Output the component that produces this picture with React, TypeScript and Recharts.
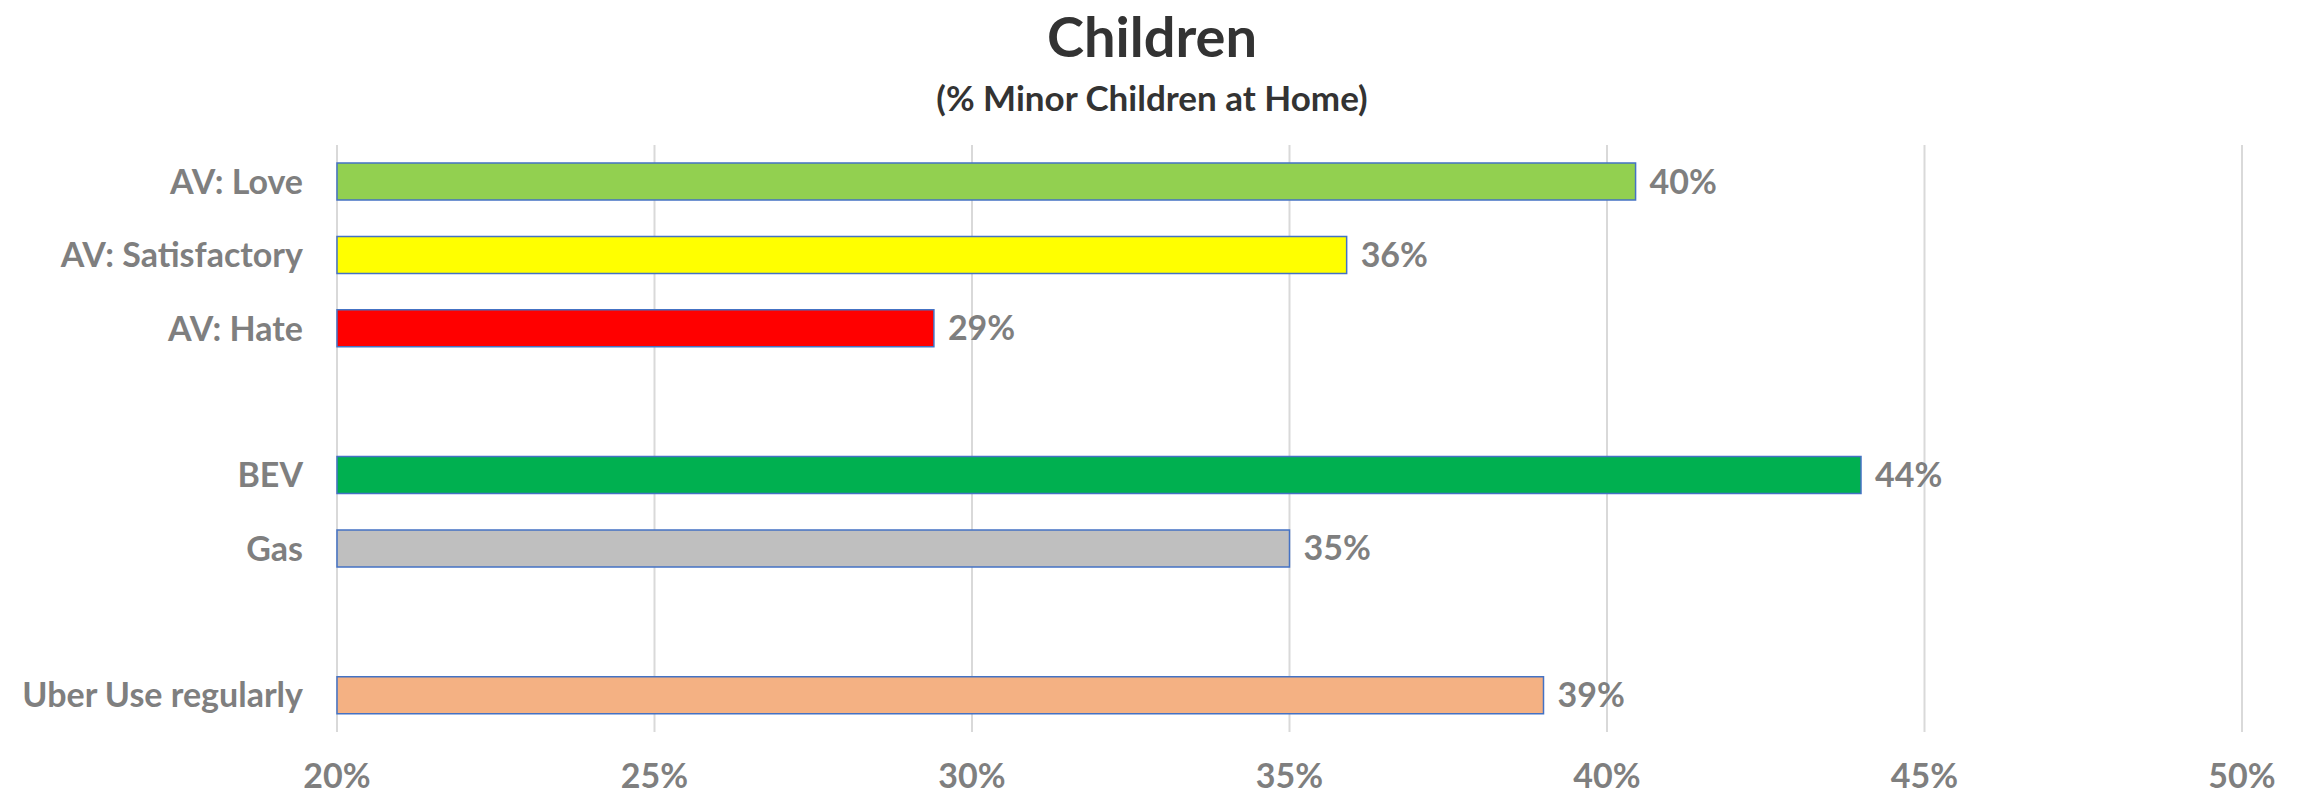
import React from "react";
import { BarChart, Bar, XAxis, YAxis, CartesianGrid, Cell, LabelList } from "recharts";

const categories = ["AV: Love", "AV: Satisfactory", "AV: Hate", " ", "BEV", "Gas", "  ", "Uber Use regularly"];
const shares = [40.45, 35.9, 29.4, null, 44.0, 35.0, null, 39.0];
const barColors = ["#92D050", "#FFFF00", "#FF0000", "#FFFFFF", "#00B050", "#BFBFBF", "#FFFFFF", "#F4B183"];
const xTicks = [20, 25, 30, 35, 40, 45, 50];

const data = categories.map((name, i) => ({ name, value: shares[i] }));

const FONT = "Lato, 'Open Sans', sans-serif";
const GREY = "#7F7F7F";

export default function App() {
  return (
    <div style={{ position: "relative", width: 2303, height: 797, background: "#fff" }}>
      <style>{`body{margin:0}`}</style>
      <svg width={2303} height={130} style={{ position: "absolute", left: 0, top: 0 }}>
        <text x={1152} y={57} textAnchor="middle" fontFamily={FONT} fontWeight={700} fontSize={56} fill="#333333">
          Children
        </text>
        <text x={1152} y={111} textAnchor="middle" fontFamily={FONT} fontWeight={700} fontSize={35} fill="#333333">
          (% Minor Children at Home)
        </text>
      </svg>
      <BarChart
        width={2303}
        height={797}
        data={data}
        layout="vertical"
        margin={{ top: 145, right: 61, bottom: 0, left: 0 }}
        barSize={37}
      >
        <CartesianGrid horizontal={false} stroke="#D9D9D9" strokeWidth={2} />
        <XAxis
          type="number"
          domain={[20, 50]}
          ticks={xTicks}
          tickFormatter={(v) => `${v}%`}
          axisLine={false}
          tickLine={false}
          height={65}
          tickMargin={26}
          tick={{ fill: GREY, fontSize: 34, fontWeight: 700, fontFamily: FONT }}
        />
        <YAxis
          type="category"
          dataKey="name"
          width={337}
          axisLine={false}
          tickLine={false}
          tickMargin={28}
          interval={0}
          tick={{ fill: GREY, fontSize: 34, fontWeight: 700, fontFamily: FONT }}
        />
        <Bar dataKey="value" isAnimationActive={false} stroke="#4472C4" strokeWidth={1.5}>
          {data.map((d, i) => (
            <Cell key={`cell-${i}`} fill={barColors[i]} />
          ))}
          <LabelList
            dataKey="value"
            position="right"
            offset={14}
            formatter={(v: any) => (v == null ? "" : `${Math.round(v)}%`)}
            style={{ fill: GREY, fontSize: 34, fontWeight: 700, fontFamily: FONT }}
          />
        </Bar>
      </BarChart>
    </div>
  );
}
